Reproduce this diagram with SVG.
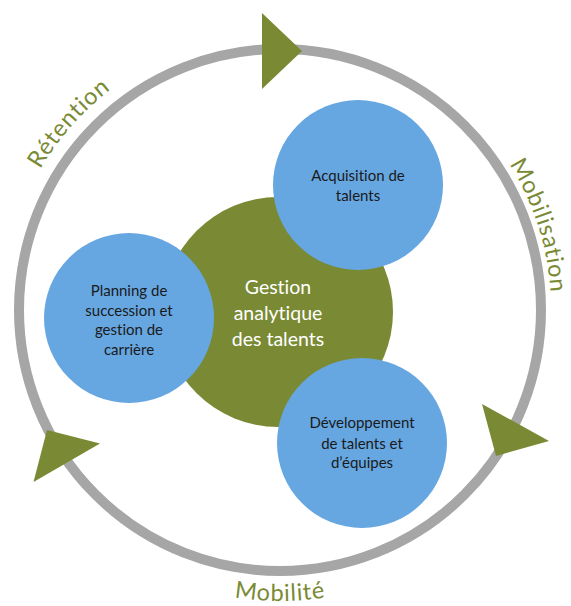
<svg xmlns="http://www.w3.org/2000/svg" width="571" height="606" viewBox="0 0 571 606">
  <style>
    text { font-variant-ligatures: none; }
    .ring { fill: none; stroke: #a6a6a6; stroke-width: 10; }
    .arrow { fill: #7a8a34; }
    .core { fill: #7a8a34; }
    .bubble { fill: #66a7e2; }
    .core-text { font-family: Lato, "Open Sans", sans-serif; font-size: 19.5px; fill: #ffffff; text-anchor: middle; }
    .bubble-text { font-family: Lato, "Open Sans", sans-serif; font-size: 15px; fill: #1a1a1a; text-anchor: middle; }
    .cycle-label { font-family: Lato, "Open Sans", sans-serif; font-size: 23.5px; letter-spacing: 0.8px; fill: #7a8a34; }
  </style>
  <defs>
    <path id="arc-retention" d="M 7.6 254.6 A 278 278 0 0 1 191.8 46.4"/>
    <path id="arc-mobilisation" d="M 462 108 A 271 271 0 0 1 545 366"/>
    <path id="arc-mobilite" d="M 134.5 562 A 291 291 0 0 0 425.5 562"/>
  </defs>

  <!-- outer cycle with its direction markers -->
  <g id="connectors">
    <circle class="ring" cx="280" cy="310" r="261"/>
    <polygon class="arrow" points="262,13 302,51 262,89"/>
    <polygon class="arrow" points="482,404 549,441 496,456"/>
    <polygon class="arrow" points="47,430 100,443.5 33.5,482"/>
  </g>

  <!-- cycle phase labels -->
  <g id="labels">
    <text class="cycle-label"><textPath href="#arc-retention" startOffset="50%" text-anchor="middle">Rétention</textPath></text>
    <text class="cycle-label" font-size="22px"><textPath href="#arc-mobilisation" startOffset="50%" text-anchor="middle">Mobilisation</textPath></text>
    <text class="cycle-label"><textPath href="#arc-mobilite" startOffset="50%" text-anchor="middle">Mobilité</textPath></text>
  </g>

  <g id="gestion-analytique">
    <circle class="core" cx="278" cy="312" r="115"/>
    <text class="core-text" x="278" y="294">Gestion</text>
    <text class="core-text" x="278" y="320">analytique</text>
    <text class="core-text" x="278" y="346">des talents</text>
  </g>

  <g id="acquisition">
    <circle class="bubble" cx="358" cy="185" r="85"/>
    <text class="bubble-text" x="358" y="181">Acquisition de</text>
    <text class="bubble-text" x="358" y="201">talents</text>
  </g>

  <g id="planning">
    <circle class="bubble" cx="129" cy="318" r="85"/>
    <text class="bubble-text" x="129" y="296">Planning de</text>
    <text class="bubble-text" x="129" y="315.5">succession et</text>
    <text class="bubble-text" x="129" y="335">gestion de</text>
    <text class="bubble-text" x="129" y="354.5">carrière</text>
  </g>

  <g id="developpement">
    <circle class="bubble" cx="362" cy="443" r="85"/>
    <text class="bubble-text" x="362" y="428">Développement</text>
    <text class="bubble-text" x="362" y="448.5">de talents et</text>
    <text class="bubble-text" x="362" y="468">d’équipes</text>
  </g>
</svg>
